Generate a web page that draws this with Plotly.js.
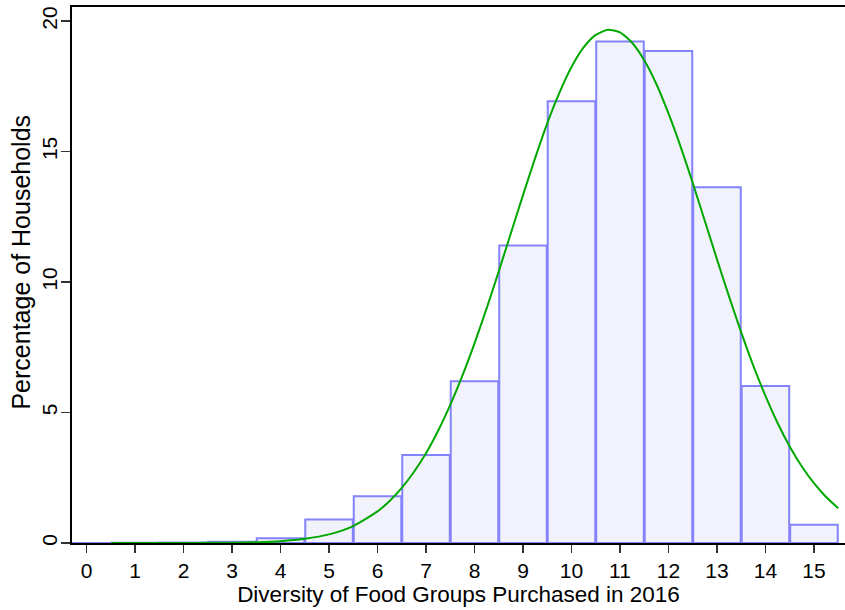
<!DOCTYPE html>
<html>
<head>
<meta charset="utf-8">
<script src="https://cdn.plot.ly/plotly-3.0.1.min.js"></script>
<style>
  html, body { margin: 0; padding: 0; background: #ffffff; }
  #chart { width: 845px; height: 610px; }
</style>
</head>
<body>
<div id="chart"></div>
<script>
// Histogram bins (food-group diversity score) and percentage of households
const categories = [0, 1, 2, 3, 4, 5, 6, 7, 8, 9, 10, 11, 12, 13, 14, 15];
const percentages = [0, 0.01, 0.02, 0.05, 0.18, 0.9, 1.79, 3.37, 6.2, 11.4, 16.93, 19.22, 18.85, 13.63, 6.02, 0.7];

// Normal-density overlay
const curveX = [0.5, 1, 1.5, 2, 2.5, 3, 3.5, 4, 4.5, 5, 5.5, 6, 6.25, 6.5, 6.75, 7, 7.25, 7.5, 7.75, 8, 8.25, 8.5, 8.75, 9, 9.25, 9.5, 9.75, 10, 10.25, 10.5, 10.75, 11, 11.25, 11.5, 11.75, 12, 12.25, 12.5, 12.75, 13, 13.25, 13.5, 13.75, 14, 14.25, 14.5, 14.75, 15, 15.25, 15.5];
const curveY = [0, 0, 0, 0, 0.005, 0.012, 0.03, 0.07, 0.16, 0.33, 0.65, 1.21, 1.61, 2.11, 2.72, 3.44, 4.3, 5.29, 6.41, 7.65, 8.99, 10.41, 11.87, 13.33, 14.75, 16.08, 17.25, 18.24, 18.99, 19.47, 19.67, 19.57, 19.17, 18.5, 17.59, 16.46, 15.19, 13.8, 12.34, 10.87, 9.44, 8.07, 6.79, 5.64, 4.6, 3.7, 2.93, 2.29, 1.76, 1.33];

const xTickVals = [0, 1, 2, 3, 4, 5, 6, 7, 8, 9, 10, 11, 12, 13, 14, 15];
const yTickVals = [0, 5, 10, 15, 20];

const fontFam = '"Liberation Sans", Arial, Helvetica, sans-serif';

const traces = [
  {
    type: 'bar',
    x: categories,
    y: percentages,
    width: 0.98,
    marker: { color: '#f2f2fc', line: { color: '#8383fb', width: 2 } },
    hoverinfo: 'x+y',
    showlegend: false
  },
  {
    type: 'scatter',
    mode: 'lines',
    x: curveX,
    y: curveY,
    line: { color: '#00a800', width: 2, shape: 'spline', smoothing: 0.6 },
    showlegend: false
  }
];

const layout = {
  width: 845,
  height: 610,
  margin: { l: 72, r: 0, t: 7, b: 67, pad: 0 },
  paper_bgcolor: '#ffffff',
  plot_bgcolor: '#ffffff',
  font: { family: fontFam, color: '#000000', size: 21 },
  bargap: 0,
  xaxis: {
    range: [-0.30, 15.64],
    tickmode: 'array',
    tickvals: xTickVals,
    ticktext: xTickVals.map(String),
    ticks: 'outside',
    ticklen: 8,
    tickwidth: 1.5,
    tickcolor: '#333333',
    showgrid: false,
    zeroline: false,
    showline: true,
    linecolor: '#000000',
    linewidth: 2,
    mirror: true,
    tickfont: { family: fontFam, size: 21, color: '#000000' },
    title: { text: 'Diversity of Food Groups Purchased in 2016', font: { family: fontFam, size: 22.5, color: '#000000' }, standoff: 0 }
  },
  yaxis: {
    range: [0, 20.54],
    tickmode: 'array',
    tickvals: yTickVals,
    ticktext: yTickVals.map(String),
    tickangle: -90,
    ticks: 'outside',
    ticklen: 9,
    tickwidth: 1.5,
    tickcolor: '#333333',
    ticklabelstandoff: -4,
    showgrid: false,
    zeroline: false,
    showline: true,
    linecolor: '#000000',
    linewidth: 2,
    mirror: false,
    tickfont: { family: fontFam, size: 21, color: '#000000' }
  },
  annotations: [
    {
      text: 'Percentage of Households',
      xref: 'paper', yref: 'paper',
      x: -0.066, y: 0.525,
      xanchor: 'center', yanchor: 'middle',
      textangle: -90,
      showarrow: false,
      font: { family: fontFam, size: 25, color: '#000000' }
    }
  ]
};

Plotly.newPlot('chart', traces, layout, { displayModeBar: false, staticPlot: true });
</script>
</body>
</html>
